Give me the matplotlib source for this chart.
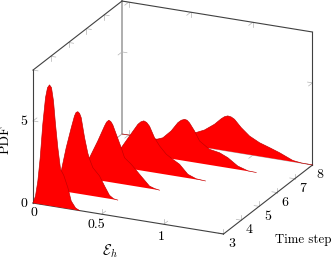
import matplotlib
matplotlib.use('Agg')
import matplotlib.pyplot as plt
from mpl_toolkits.mplot3d.art3d import Poly3DCollection

plt.rcParams['font.family'] = ['cmr10', 'DejaVu Serif']
plt.rcParams['mathtext.fontset'] = 'cm'
plt.rcParams['axes.formatter.use_mathtext'] = True

# curves, one per time step
steps = [3, 4, 5, 6, 7, 8]
x3 = [-.054, -.034, -.015, .004, .025, .047, .063, .079, .095, .111, .127, .146, .168, .194, .227, .254, .289, .321]
z3 = [0, .45, 1.39, 2.83, 4.91, 6.55, 7.17, 7.36, 7.21, 6.42, 5.04, 3.62, 2.33, 1.99, 1.28, .50, .12, 0]
x4 = [-.054, -.024, .008, .03, .07, .111, .137, .15, .164, .178, .191, .218, .244, .258, .285, .339, .379, .419, .452, .486]
z4 = [0, .14, .58, 1.21, 2.68, 3.95, 4.70, 4.93, 4.99, 4.90, 4.66, 3.48, 2.57, 2.23, 1.73, 1.29, .73, .21, .04, 0]
x5 = [-.054, .018, .066, .115, .181, .236, .252, .27, .286, .302, .33, .37, .397, .451, .518, .598, .639, .679]
z5 = [0, .27, .66, 1.29, 2.38, 3.37, 3.62, 3.76, 3.70, 3.52, 2.98, 2.21, 1.63, 1.30, .77, .15, .05, 0]
x6 = [-.054, .092, .227, .294, .361, .385, .409, .432, .455, .495, .536, .59, .643, .697, .764, .831, .906]
z6 = [0, .37, 1.19, 1.99, 2.78, 2.96, 3.05, 2.98, 2.78, 2.13, 1.68, 1.24, .99, .76, .23, .04, 0]
x7 = [-.054, .19, .311, .419, .486, .54, .567, .594, .614, .634, .674, .715, .795, .876, .943, 1.023, 1.104, 1.172]
z7 = [0, .20, .86, 1.19, 1.69, 2.26, 2.44, 2.53, 2.50, 2.36, 1.92, 1.36, .95, .84, .62, .21, .02, 0]
x8 = [-.054, .248, .41, .557, .611, .692, .746, .773, .799, .826, .853, .907, .974, 1.055, 1.136, 1.216, 1.323, 1.393, 1.482]
z8 = [0, .03, .40, .87, 1.06, 1.51, 1.91, 2.07, 2.15, 2.12, 2.01, 1.57, 1.14, .83, .63, .42, .08, .01, 0]
curves = [(x3, z3), (x4, z4), (x5, z5), (x6, z6), (x7, z7), (x8, z8)]

x_ticks = [0, 0.5, 1]
z_ticks = [0, 5]
xmin, xmax = -.054, 1.482
tmin, tmax = 3, 8
zmin, zmax = 0, 8.1

fig = plt.figure(figsize=(3.32, 2.6), dpi=100)
ax = fig.add_axes([2.27 / 332, -28 / 260, 1, 332 / 260], projection='3d',
                  computed_zorder=False, proj_type='ortho')
ax.view_init(elev=20.8, azim=-65.4)
ax.set_box_aspect((209.6, 213.9, 142.3), zoom=0.969)
ax.set_xlim(xmin, xmax, view_margin=0)
ax.set_ylim(tmin, tmax, view_margin=0)
ax.set_zlim(zmin, zmax, view_margin=0)
ax.set_axis_off()

grey = '#b4b4b4'
dark = '#404040'


def edge(a, b, color, lw, zo):
    ax.plot([a[0], b[0]], [a[1], b[1]], [a[2], b[2]], color=color, lw=lw, zorder=zo,
            solid_capstyle='projecting')


def tick(p, d1, d2):
    for d in (d1, d2):
        ax.plot([p[0], p[0] + d[0]], [p[1], p[1] + d[1]], [p[2], p[2] + d[2]],
                color=grey, lw=.5, zorder=2)


dx, dt, dz = .04, .22, .3

# hidden edges
edge((xmin, tmax, zmin), (xmin, tmax, zmax), '#a8a8a8', 1.3, 1)
edge((xmin, tmin, zmin), (xmin, tmax, zmin), grey, .6, 1)
edge((xmin, tmax, zmin), (xmax, tmax, zmin), grey, .6, 1)

for xt in x_ticks:
    tick((xt, tmin, zmin), (0, dt, 0), (0, 0, dz))
    tick((xt, tmax, zmin), (0, -dt, 0), (0, 0, dz))
    tick((xt, tmax, zmax), (0, -dt, 0), (0, 0, -dz))
for s in steps:
    tick((xmax, s, zmin), (-dx, 0, 0), (0, 0, dz))
    tick((xmin, s, zmax), (dx, 0, 0), (0, 0, -dz))
for zt in z_ticks:
    tick((xmin, tmin, zt), (dx, 0, 0), (0, dt, 0))
    tick((xmin, tmax, zt), (dx, 0, 0), (0, -dt, 0))
    tick((xmax, tmax, zt), (-dx, 0, 0), (0, -dt, 0))

# visible box edges
edge((xmin, tmin, zmax), (xmin, tmax, zmax), dark, .8, 3)
edge((xmin, tmax, zmax), (xmax, tmax, zmax), dark, .8, 3)
edge((xmax, tmax, zmax), (xmax, tmax, zmin), dark, .8, 3)
edge((xmin, tmin, zmin), (xmin, tmin, zmax), dark, .8, 3)
edge((xmin, tmin, zmin), (xmax, tmin, zmin), dark, .8, 3)
edge((xmax, tmin, zmin), (xmax, tmax, zmin), dark, .8, 3)

# back to front
zo = 10
for s, (xs, zs) in sorted(zip(steps, curves), key=lambda c: -c[0]):
    verts = [(a, s, b) for a, b in zip(xs, zs)]
    ax.add_collection3d(Poly3DCollection([verts], facecolor='#ff0000', edgecolor='none', zorder=zo))
    ax.plot(xs, [s] * len(xs), zs, color='#c00000', lw=.45, zorder=zo + 1)
    zo += 2


def label(px, py, s, size=10, **kw):
    fig.text(px / 332, 1 - py / 260, s, ha='center', va='center', fontsize=size, **kw)


label(34, 213, '0')
label(96, 225, '0.5')
label(161, 237, '1')
label(24, 204, '0')
label(24, 122, '5')
for s, px, py in zip(steps, [232, 249, 268, 285, 303, 320], [244, 230, 217, 203, 189, 175]):
    label(px, py, str(s))
label(110, 251, r'$\mathcal{E}_h$', size=10.5)
label(303, 240, 'Time step', size=9.3)
label(6, 140, 'PDF', rotation=90)

fig.savefig('out.png', dpi=100)
